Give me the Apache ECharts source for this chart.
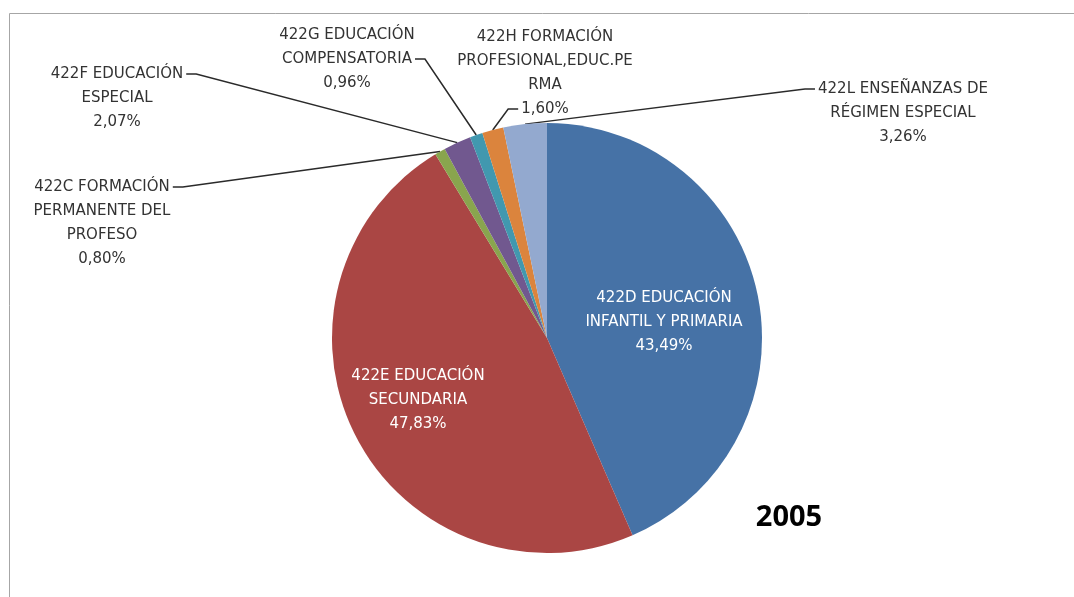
<!DOCTYPE html>
<html>
<head>
<meta charset="utf-8">
<script src="https://cdn.jsdelivr.net/npm/echarts@6/dist/echarts.min.js"></script>
<style>
html, body { margin: 0; padding: 0; background: #fff; }
#chart { width: 1074px; height: 597px; }
</style>
</head>
<body>
<div id="chart"></div>
<script>
var categories = [
    '422D EDUCACIÓN\nINFANTIL Y PRIMARIA',
    '422E EDUCACIÓN\nSECUNDARIA',
    '422C FORMACIÓN\nPERMANENTE DEL\nPROFESO',
    '422F EDUCACIÓN\nESPECIAL',
    '422G EDUCACIÓN\nCOMPENSATORIA',
    '422H FORMACIÓN\nPROFESIONAL,EDUC.PE\nRMA',
    '422L ENSEÑANZAS DE\nRÉGIMEN ESPECIAL'
];
var values = [43.49, 47.83, 0.80, 2.07, 0.96, 1.60, 3.26];
var colors = ['#4672a6', '#aa4644', '#89a54e', '#71588f', '#4198af', '#db843d', '#93a9cf'];
var inside = [true, true, false, false, false, false, false];
// centre of each label block, where Excel left it
var labelPos = [[664, 322], [418, 400], [102, 223], [117, 98], [347, 59], [545, 73], [903, 113]];
// which text line the leader line hooks onto, and on which side
var hook = [null, null, [0, 'right'], [0, 'right'], [1, 'right'], [3, 'left'], [0, 'left']];

var FONT = 'DejaVu Sans';
var FONT_SIZE = 15;
var LINE_H = 24;

function pct(v) {
    return v.toFixed(2).replace('.', ',') + '%';
}

var measureCtx = document.createElement('canvas').getContext('2d');
measureCtx.font = FONT_SIZE + 'px "' + FONT + '"';

var chart = echarts.init(document.getElementById('chart'));

var data = [];
for (var i = 0; i < values.length; i++) {
    data.push({
        name: categories[i],
        value: values[i],
        itemStyle: { color: colors[i] },
        label: {
            position: inside[i] ? 'inside' : 'outside',
            color: inside[i] ? '#ffffff' : '#333333'
        },
        labelLine: { show: !inside[i] }
    });
}

var option = {
    animation: false,
    graphic: [{
        type: 'rect',
        shape: { x: 9.5, y: 13.5, width: 1200, height: 800 },
        style: { fill: 'none', stroke: '#a6a6a6', lineWidth: 1 },
        silent: true
    }],
    title: {
        text: '2005',
        left: 784,
        top: 498,
        textAlign: 'center',
        textStyle: { fontFamily: 'Open Sans', fontSize: 29, fontWeight: 'bold', color: '#000' }
    },
    series: [{
        type: 'pie',
        center: [547, 338],
        radius: 215,
        startAngle: 90,
        clockwise: true,
        avoidLabelOverlap: false,
        emphasis: { disabled: true },
        label: {
            fontFamily: FONT,
            fontSize: FONT_SIZE,
            lineHeight: LINE_H,
            align: 'center',
            formatter: function (p) {
                return p.name + '\n' + pct(p.value);
            }
        },
        labelLine: {
            show: true,
            length: 10,
            length2: 8,
            lineStyle: { color: '#2a2a2a', width: 1.5 }
        },
        labelLayout: function (p) {
            var idx = p.dataIndex;
            var pos = labelPos[idx];
            var out = { x: pos[0], y: pos[1], align: 'center', verticalAlign: 'middle' };
            var h = hook[idx];
            if (h && p.labelLinePoints) {
                var lines = (categories[idx] + '\n' + pct(values[idx])).split('\n');
                var w = measureCtx.measureText(lines[h[0]]).width;
                var ly = pos[1] - lines.length * LINE_H / 2 + LINE_H * h[0] + LINE_H / 2;
                var lx = h[1] === 'right' ? pos[0] + w / 2 + 3 : pos[0] - w / 2 - 3;
                var ex = h[1] === 'right' ? lx + 10 : lx - 10;
                out.labelLinePoints = [p.labelLinePoints[0], [ex, ly], [lx, ly]];
            }
            return out;
        },
        data: data
    }]
};

chart.setOption(option);
</script>
</body>
</html>
